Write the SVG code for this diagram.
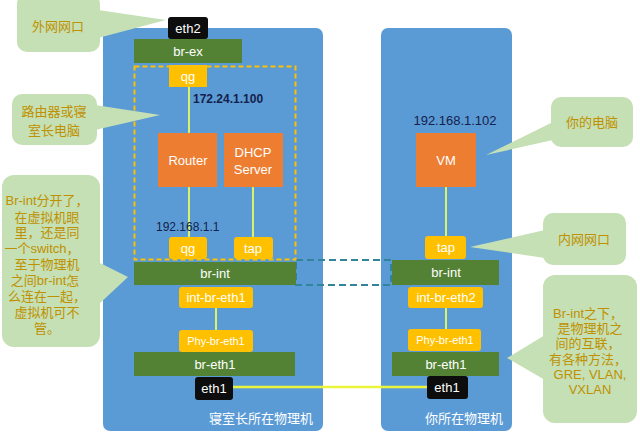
<svg xmlns="http://www.w3.org/2000/svg" width="640" height="436" viewBox="0 0 640 436">
<style>
text{font-family:"Liberation Sans","Noto Sans CJK SC",sans-serif;}
.host{fill:#5B9BD5;}
.br{fill:#548235;}
.port{fill:#FFC000;}
.vm{fill:#ED7D31;}
.nic{fill:#0D0D0D;}
.w{fill:#FFFFFF;font-size:13px;text-anchor:middle;}
.ws{fill:#FFFFFF;font-size:11px;text-anchor:middle;}
.ip{fill:#14214C;font-size:12px;}
.call{fill:#C5E0B4;}
.ct{fill:#BF9000;font-size:13px;text-anchor:middle;}
.link{stroke:#D9F26A;stroke-width:2;fill:none;}
</style>
<rect width="640" height="436" fill="#FFFFFF"/>
<g id="host-left"><rect class="host" x="103" y="28" width="220" height="403" rx="7"/><text x="261" y="423" class="w">寝室长所在物理机</text></g>
<g id="host-right"><rect class="host" x="381" y="28" width="131" height="403" rx="7"/><text x="464" y="423" class="w">你所在物理机</text></g>
<g id="tunnel"><rect x="296" y="260" width="95" height="25" fill="none" stroke="#31849B" stroke-width="2" stroke-dasharray="7,4"/></g>
<g id="router-ns"><rect x="134.5" y="66.5" width="161" height="193" fill="none" stroke="#FFC000" stroke-width="2" stroke-dasharray="5,3"/></g>
<g id="connectors">
<line class="link" x1="189" y1="87" x2="189" y2="133"/>
<line class="link" x1="189" y1="187" x2="189" y2="237"/>
<line class="link" x1="253" y1="187" x2="253" y2="237"/>
<line class="link" x1="216" y1="308" x2="216" y2="330"/>
<line class="link" x1="446" y1="187" x2="446" y2="236"/>
<line class="link" x1="446" y1="308" x2="446" y2="330"/>
<line x1="233" y1="387" x2="428" y2="387" stroke="#EAF53C" stroke-width="2.5"/>
</g>
<g id="eth2"><rect class="nic" x="168" y="17" width="40" height="22" rx="3"/><text x="188" y="33" class="w">eth2</text></g>
<g id="br-ex"><rect class="br" x="134" y="39" width="108" height="24"/><text x="188" y="56" class="w">br-ex</text></g>
<g id="qg-top"><rect class="port" x="169" y="65" width="38" height="22"/><text x="188" y="81" class="w">qg</text></g>
<text x="193" y="103" class="ip" font-weight="bold">172.24.1.100</text>
<g id="router"><rect class="vm" x="158" y="133" width="59" height="54"/><text x="188" y="165" class="w">Router</text></g>
<g id="dhcp"><rect class="vm" x="224" y="133" width="59" height="54"/><text x="253" y="157" class="w">DHCP</text><text x="253" y="174" class="w">Server</text></g>
<text x="156" y="231" class="ip">192.168.1.1</text>
<g id="qg-bottom"><rect class="port" x="169" y="237" width="38" height="22" rx="3"/><text x="188" y="253" class="w">qg</text></g>
<g id="tap-left"><rect class="port" x="234" y="237" width="39" height="22" rx="3"/><text x="253" y="253" class="w">tap</text></g>
<g id="br-int-left"><rect class="br" x="134" y="262" width="162" height="23"/><text x="215" y="278" class="w">br-int</text></g>
<g id="int-br-eth1"><rect class="port" x="179" y="287" width="74" height="21" rx="3"/><text x="216" y="302" class="w">int-br-eth1</text></g>
<g id="phy-br-eth1-left"><rect class="port" x="179" y="330" width="74" height="22" rx="3"/><text x="216" y="345" class="ws">Phy-br-eth1</text></g>
<g id="br-eth1-left"><rect class="br" x="134" y="352" width="161" height="24"/><text x="215" y="369" class="w">br-eth1</text></g>
<g id="eth1-left"><rect class="nic" x="195" y="377" width="38" height="23" rx="3"/><text x="214" y="393" class="w">eth1</text></g>
<text x="455" y="125" class="ip" font-size="13" text-anchor="middle" style="font-size:13px">192.168.1.102</text>
<g id="vm"><rect class="vm" x="416" y="133" width="60" height="54"/><text x="446" y="165" class="w">VM</text></g>
<g id="tap-right"><rect class="port" x="425" y="236" width="41" height="23" rx="3"/><text x="446" y="252" class="w">tap</text></g>
<g id="br-int-right"><rect class="br" x="392" y="260" width="107" height="25"/><text x="446" y="277" class="w">br-int</text></g>
<g id="int-br-eth2"><rect class="port" x="408" y="287" width="75" height="21" rx="3"/><text x="446" y="302" class="w">int-br-eth2</text></g>
<g id="phy-br-eth1-right"><rect class="port" x="408" y="329" width="73" height="22" rx="3"/><text x="445" y="344" class="ws">Phy-br-eth1</text></g>
<g id="br-eth1-right"><rect class="br" x="392" y="352" width="107" height="24"/><text x="446" y="369" class="w">br-eth1</text></g>
<g id="eth1-right"><rect class="nic" x="427" y="376" width="41" height="23" rx="3"/><text x="447" y="392" class="w">eth1</text></g>
<g id="note-wan"><rect class="call" x="17" y="-6" width="83" height="58" rx="10"/><polygon class="call" points="98,10 166,20 98,38"/><text x="58" y="31" class="ct">外网网口</text></g>
<g id="note-router"><rect class="call" x="12" y="94" width="85" height="51" rx="10"/><polygon class="call" points="95,105 160,115 95,130"/><text x="54" y="116" class="ct">路由器或寝</text><text x="54" y="135" class="ct">室长电脑</text></g>
<g id="note-brint"><rect class="call" x="2" y="175" width="98" height="172" rx="12"/><polygon class="call" points="98,262 128,277 98,305"/><text x="47" y="205" class="ct">Br-int分开了，</text><text x="47" y="222" class="ct">在虚拟机眼</text><text x="47" y="237" class="ct">里，还是同</text><text x="42" y="253" class="ct">一个switch，</text><text x="47" y="269" class="ct">至于物理机</text><text x="45" y="285" class="ct">之间br-int怎</text><text x="47" y="301" class="ct">么连在一起，</text><text x="47" y="317" class="ct">虚拟机可不</text><text x="47" y="333" class="ct">管。</text></g>
<g id="note-pc"><rect class="call" x="551" y="97" width="82" height="50" rx="10"/><polygon class="call" points="553,122 486,155 553,140"/><text x="592" y="127" class="ct">你的电脑</text></g>
<g id="note-lan"><rect class="call" x="543" y="213" width="83" height="52" rx="10"/><polygon class="call" points="545,230 470,247 545,258"/><text x="584" y="244" class="ct">内网网口</text></g>
<g id="note-phys"><rect class="call" x="543" y="275" width="94" height="148" rx="12"/><polygon class="call" points="545,335 507,358 545,380"/><text x="588" y="318" class="ct">Br-int之下，</text><text x="590" y="333" class="ct">是物理机之</text><text x="588" y="348" class="ct">间的互联，</text><text x="588" y="364" class="ct">有各种方法，</text><text x="590" y="379" class="ct">GRE, VLAN,</text><text x="590" y="394" class="ct">VXLAN</text></g>
</svg>
